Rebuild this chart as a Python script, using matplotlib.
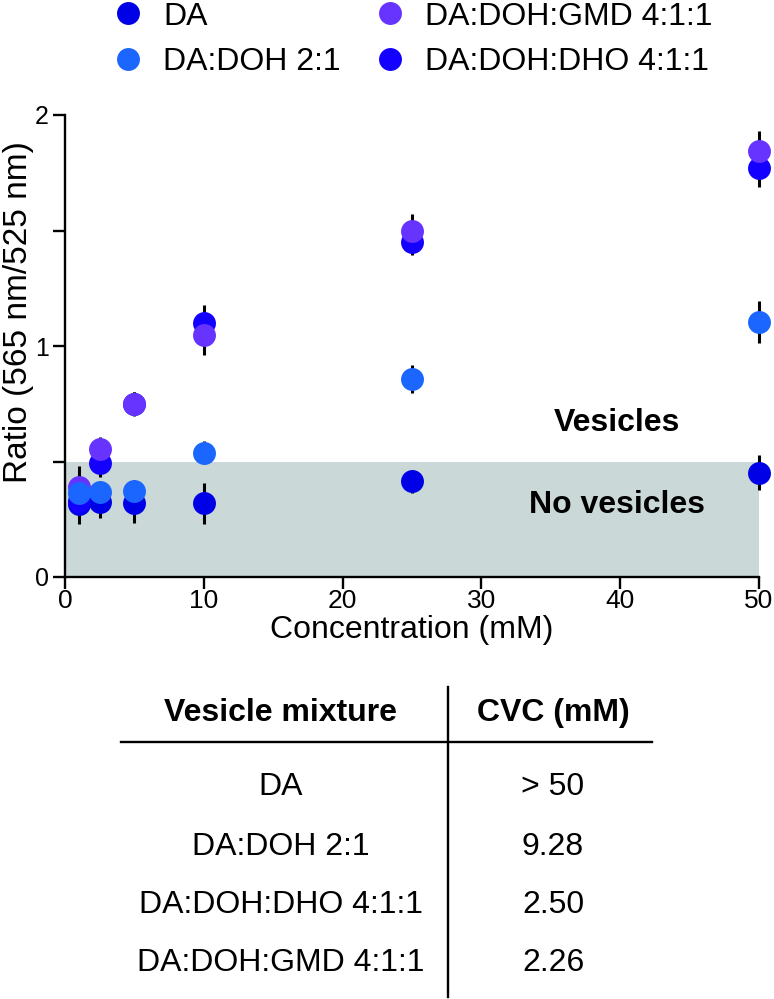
import matplotlib
matplotlib.use("Agg")
import matplotlib.pyplot as plt
from matplotlib.lines import Line2D

plt.rcParams['font.family'] = ['Liberation Sans', 'DejaVu Sans']

# data
conc = [1, 2.5, 5, 10, 25, 50]

da = [0.315, 0.325, 0.319, 0.319, 0.415, 0.452]
da_err = [0.087, 0.07, 0.087, 0.09, 0.05, 0.076]

doh = [0.365, 0.368, 0.372, 0.538, 0.856, 1.103]
doh_err = [0.04, 0.04, 0.05, 0.05, 0.06, 0.09]

dho = [0.33, 0.495, 0.75, 1.098, 1.452, 1.769]
dho_err = [0.05, 0.06, 0.05, 0.08, 0.06, 0.08]

gmd = [0.39, 0.553, 0.748, 1.046, 1.5, 1.844]
gmd_err = [0.09, 0.052, 0.052, 0.086, 0.07, 0.088]

threshold = 0.5

mixtures = ["DA", "DA:DOH 2:1", "DA:DOH:DHO 4:1:1", "DA:DOH:GMD 4:1:1"]
cvc = ["> 50", "9.28", "2.50", "2.26"]

c_da = '#0000E6'
c_doh = '#1A66FF'
c_dho = '#1400FF'
c_gmd = '#6633FF'

W, H = 774, 999
fs = 23
fig = plt.figure(figsize=(W / 100, H / 100), dpi=100)
ax = fig.add_axes([65 / W, 1 - 577 / H, (759 - 65) / W, (577 - 115) / H])

ax.fill_between([0, 50], 0, threshold, color='#CAD9D8', lw=0, zorder=0)

series = [
    (da, da_err, c_da, "DA"),
    (dho, dho_err, c_dho, "DA:DOH:DHO 4:1:1"),
    (gmd, gmd_err, c_gmd, "DA:DOH:GMD 4:1:1"),
    (doh, doh_err, c_doh, "DA:DOH 2:1"),
]
handles = {}
for vals, err, col, lab in series:
    ax.errorbar(conc, vals, yerr=err, fmt='none', ecolor='black', elinewidth=2.2,
                capsize=0, zorder=2, clip_on=False)
for vals, err, col, lab in series:
    h, = ax.plot(conc, vals, 'o', ms=16.5, color=col, mec='none', zorder=3,
                 clip_on=False, label=lab)
    handles[lab] = h

ax.text(39.8, 0.667, "Vesicles", fontsize=fs, fontweight='bold', ha='center', va='center')
ax.text(39.8, 0.31, "No vesicles", fontsize=fs, fontweight='bold', ha='center', va='center')

ax.set_xlim(0, 50)
ax.set_ylim(0, 2)
ax.set_xticks([0, 10, 20, 30, 40, 50])
ax.set_yticks([0, 1, 2])
ax.set_yticks([0.5, 1.5], minor=True)
for s in ['top', 'right']:
    ax.spines[s].set_visible(False)
for s in ['left', 'bottom']:
    ax.spines[s].set_linewidth(1.7)
ax.tick_params(axis='both', which='both', width=1.7, length=8.5, direction='out')
ax.tick_params(axis='x', labelsize=19, pad=0)
ax.tick_params(axis='y', labelsize=18, pad=3)
ax.set_xlabel("Concentration (mM)", fontsize=fs)
ax.xaxis.set_label_coords(0.5, -0.083)
ax.set_ylabel("Ratio (565 nm/525 nm)", fontsize=24)
ax.yaxis.set_label_coords(-0.0445, 0.574)

order = ["DA", "DA:DOH 2:1", "DA:DOH:GMD 4:1:1", "DA:DOH:DHO 4:1:1"]
fig.legend([handles[k] for k in order], order, loc='center left',
           bbox_to_anchor=(112 / W, 1 - 39.5 / H), ncol=2, frameon=False,
           fontsize=fs, handlelength=1.0, handletextpad=0.6, columnspacing=1.05,
           borderpad=0, borderaxespad=0, labelspacing=0.5, markerscale=1.0)

# table below the chart
col_x = [281 / W, 553 / W]
fig.text(col_x[0], 1 - 713 / H, "Vesicle mixture", fontsize=fs, fontweight='bold',
         ha='center', va='center')
fig.text(col_x[1], 1 - 713 / H, "CVC (mM)", fontsize=fs, fontweight='bold',
         ha='center', va='center')
row_y = [787, 847, 905, 963]
for name, val, ry in zip(mixtures, cvc, row_y):
    fig.text(col_x[0], 1 - ry / H, name, fontsize=fs, ha='center', va='center')
    fig.text(col_x[1], 1 - ry / H, val, fontsize=fs, ha='center', va='center')
fig.add_artist(Line2D([121 / W, 652 / W], [1 - 742 / H, 1 - 742 / H], color='black', lw=1.7))
fig.add_artist(Line2D([448 / W, 448 / W], [1 - 687 / H, 1 - 997 / H], color='black', lw=1.7))

fig.savefig("out.png", dpi=100)
